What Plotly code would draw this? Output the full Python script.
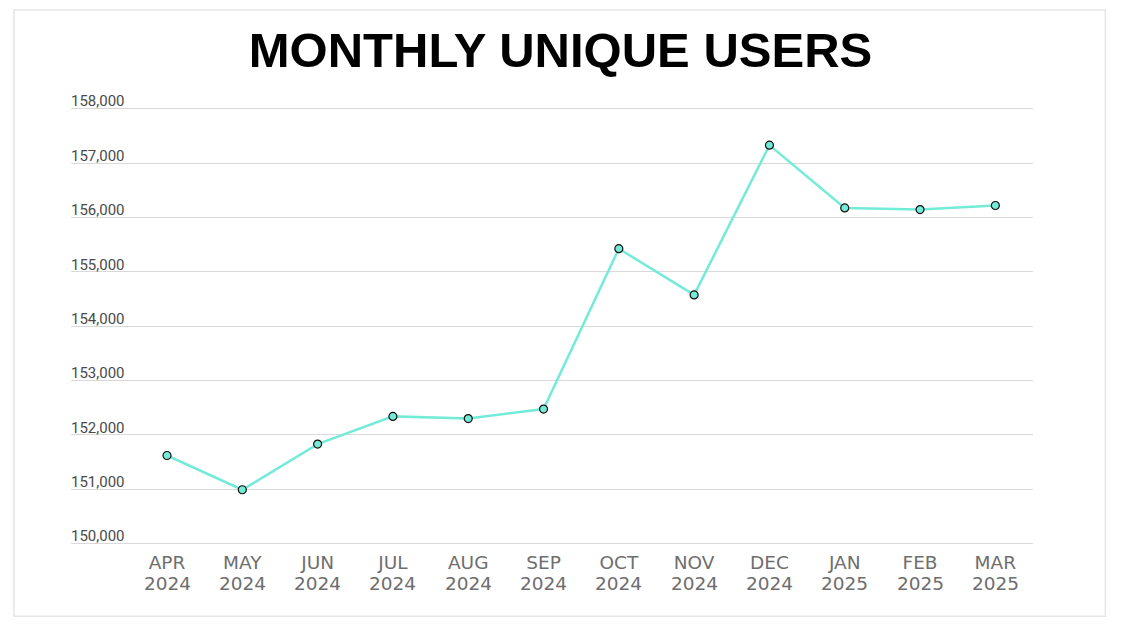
import plotly.graph_objects as go

# ---- data ----
months = ["APR", "MAY", "JUN", "JUL", "AUG", "SEP", "OCT", "NOV", "DEC", "JAN", "FEB", "MAR"]
years = ["2024", "2024", "2024", "2024", "2024", "2024", "2024", "2024", "2024", "2025", "2025", "2025"]
users = [151620, 150990, 151830, 152340, 152300, 152475, 155425, 154575, 157330, 156175, 156145, 156220]
y_ticks = [150000, 151000, 152000, 153000, 154000, 155000, 156000, 157000, 158000]

categories = [f"{m} {y}" for m, y in zip(months, years)]

LINE = "#74ebd8"
OFF = 8  # page body margin
W, H = 1121 - 2 * OFF, 631 - 2 * OFF
# plot area in screen px
SL, SR, ST, SB = 71, 1032.7, 86.97, 548.73
PL, PR, PT, PB = SL - OFF, SR - OFF, ST - OFF, SB - OFF
pw = PR - PL
ph = PB - PT

fig = go.Figure()
fig.add_trace(go.Scatter(
    x=categories, y=users, mode="lines+markers",
    line=dict(color=LINE, width=2.5),
    marker=dict(size=8, color=LINE, line=dict(color="#111111", width=1.2)),
    hoverinfo="x+y", showlegend=False,
))

for c, yr in zip(categories, years):
    fig.add_annotation(
        x=c, xref="x", y=(SB - 583.3) / ph, yref="paper",
        text=yr, showarrow=False, yanchor="middle", xanchor="center",
        font=dict(family="DejaVu Sans", size=18.5, color="#6e6e6e"),
    )

fig.add_shape(
    type="rect", xref="paper", yref="paper",
    x0=(14 - SL) / pw, x1=(1105 - SL) / pw,
    y0=(SB - 616) / ph, y1=(SB - 10) / ph,
    line=dict(color="#e6e6e6", width=1.5), fillcolor="rgba(0,0,0,0)", layer="below",
)

fig.update_layout(
    width=W, height=H,
    margin=dict(l=PL, r=W - PR, t=PT, b=H - PB, pad=0),
    paper_bgcolor="white", plot_bgcolor="white",
    title=dict(
        text="<b>MONTHLY UNIQUE USERS</b>",
        x=0.5, xref="container", xanchor="center",
        y=1 - (50 - OFF) / H, yref="container", yanchor="middle",
        font=dict(family="Liberation Sans", size=49, color="#000000"),
    ),
    xaxis=dict(
        type="category", categoryorder="array", categoryarray=categories,
        range=[-1.275, 11.5],
        tickmode="array", tickvals=categories, ticktext=months,
        tickfont=dict(family="DejaVu Sans", size=18.5, color="#6e6e6e"),
        ticklabelstandoff=0,
        showgrid=False, zeroline=False, showline=False, ticks="",
        fixedrange=True,
    ),
    yaxis=dict(
        range=[149900, 158400],
        tickmode="array", tickvals=y_ticks,
        ticktext=[f"{v:,}" for v in y_ticks],
        ticklabelposition="inside top",
        ticklabelshift=3, ticklabelstandoff=-3,
        tickfont=dict(family="Roboto", size=15, color="#4a4a4a"),
        showgrid=True, gridcolor="#d9d9d9", gridwidth=1,
        zeroline=False, showline=False, ticks="",
        fixedrange=True,
    ),
)

fig.write_html("out.html")
